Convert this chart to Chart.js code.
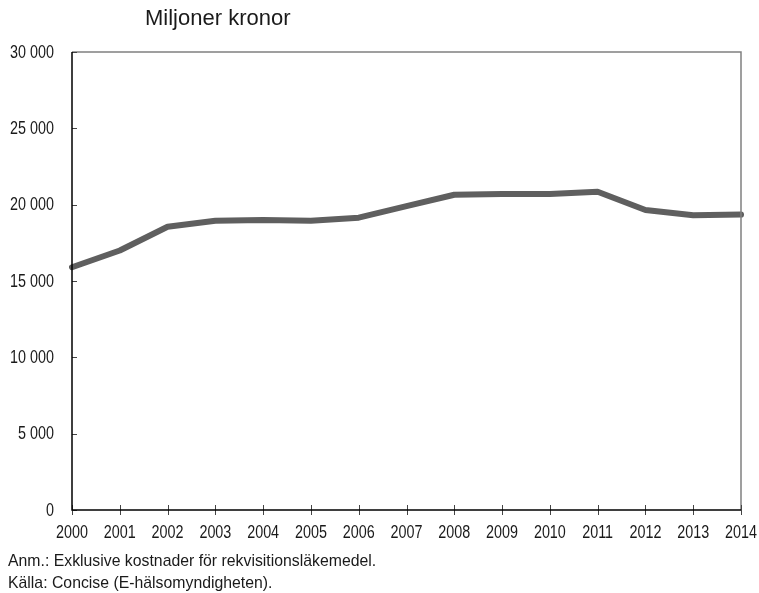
<!DOCTYPE html>
<html lang="sv">
<head>
<meta charset="utf-8">
<script src="https://cdn.jsdelivr.net/npm/chart.js@4/dist/chart.umd.min.js"></script>
<style>
  html, body { margin: 0; padding: 0; background: #fff; }
  #wrap { position: relative; width: 759px; height: 593px; }
  #c { position: absolute; left: 0; top: 0; }
  .txt { position: absolute; color: #1a1a1a; white-space: nowrap; }
  #title { left: 145px; top: 5px; font: 22px "Liberation Sans", Arial, sans-serif; }
  .note { left: 8px; font: 17px "Liberation Sans", Arial, sans-serif;
          transform: scaleX(0.93); transform-origin: 0 0; }
  #note1 { top: 551px; }
  #note2 { top: 573px; }
</style>
</head>
<body>
<div id="wrap">
  <canvas id="c" width="759" height="593"></canvas>
  <div id="title" class="txt">Miljoner kronor</div>
  <div id="note1" class="txt note">Anm.: Exklusive kostnader för rekvisitionsläkemedel.</div>
  <div id="note2" class="txt note">Källa: Concise (E-hälsomyndigheten).</div>
</div>
<script>
// Kostnader för läkemedel, miljoner kronor per år
const years = ['2000','2001','2002','2003','2004','2005','2006','2007',
               '2008','2009','2010','2011','2012','2013','2014'];
const costs = [15900, 17000, 18550, 18950, 19000, 18950, 19150, 19900,
               20650, 20700, 20700, 20850, 19650, 19300, 19350];
const yTicks = [0, 5000, 10000, 15000, 20000, 25000, 30000];

const LABEL_FONT = '17.5px "Liberation Sans", Arial, sans-serif';
const NARROW = 0.82;   // horizontal squeeze for a condensed look

const fmt = v => v === 0 ? '0' : String(v).replace(/\B(?=(\d{3})+(?!\d))/g, ' ');

// Frame on top/right, short tick marks and condensed tick labels, all placed from the scales
const frameTicks = {
  id: 'frameTicks',
  afterDraw(chart) {
    const { ctx, chartArea: a, scales } = chart;
    ctx.save();
    ctx.strokeStyle = '#808080';
    ctx.lineWidth = 1.5;
    ctx.beginPath();
    ctx.moveTo(a.left, a.top);
    ctx.lineTo(a.right, a.top);
    ctx.lineTo(a.right, a.bottom);
    ctx.stroke();

    ctx.strokeStyle = '#444';
    ctx.lineWidth = 1;
    ctx.beginPath();
    scales.y.ticks.forEach((t, i) => {
      const y = Math.round(scales.y.getPixelForTick(i)) + 0.5;
      ctx.moveTo(a.left, y);
      ctx.lineTo(a.left + 5, y);
    });
    scales.x.ticks.forEach((t, i) => {
      const x = Math.round(scales.x.getPixelForTick(i)) + 0.5;
      ctx.moveTo(x, a.bottom - 5);
      ctx.lineTo(x, a.bottom + 5);
    });
    ctx.stroke();

    ctx.strokeStyle = '#000';
    ctx.lineWidth = 1.5;
    ctx.beginPath();
    ctx.moveTo(a.left, a.top);
    ctx.lineTo(a.left, a.bottom);
    ctx.lineTo(a.right, a.bottom);
    ctx.stroke();

    ctx.fillStyle = '#1a1a1a';
    ctx.font = LABEL_FONT;
    ctx.textAlign = 'right';
    ctx.textBaseline = 'middle';
    scales.y.ticks.forEach((t, i) => {
      ctx.save();
      ctx.translate(a.left - 18, scales.y.getPixelForTick(i) + 1);
      ctx.scale(NARROW, 1);
      ctx.fillText(fmt(t.value), 0, 0);
      ctx.restore();
    });
    ctx.textAlign = 'center';
    ctx.textBaseline = 'alphabetic';
    scales.x.ticks.forEach((t, i) => {
      ctx.save();
      ctx.translate(scales.x.getPixelForTick(i), a.bottom + 28);
      ctx.scale(NARROW, 1);
      ctx.fillText(scales.x.getLabelForValue(t.value), 0, 0);
      ctx.restore();
    });
    ctx.restore();
  }
};

new Chart(document.getElementById('c'), {
  type: 'line',
  data: {
    labels: years,
    datasets: [{
      data: costs,
      borderColor: '#5f5f5f',
      borderWidth: 6,
      tension: 0,
      pointRadius: 0,
      pointHoverRadius: 0,
      borderCapStyle: 'round',
      borderJoinStyle: 'round'
    }]
  },
  options: {
    responsive: false,
    animation: false,
    events: [],
    layout: { padding: { top: 52, right: 18, left: 0, bottom: 0 } },
    plugins: { legend: { display: false }, tooltip: { enabled: false } },
    scales: {
      x: {
        offset: false,
        grid: { display: false, drawTicks: false },
        border: { display: false },
        afterFit(s) { s.height = 83; },
        ticks: { display: false, autoSkip: false, maxRotation: 0 }
      },
      y: {
        min: 0,
        max: 30000,
        afterBuildTicks(s) { s.ticks = yTicks.map(v => ({ value: v })); },
        afterFit(s) { s.width = 72; },
        grid: { display: false, drawTicks: false },
        border: { display: false },
        ticks: { display: false }
      }
    }
  },
  plugins: [frameTicks]
});
</script>
</body>
</html>
